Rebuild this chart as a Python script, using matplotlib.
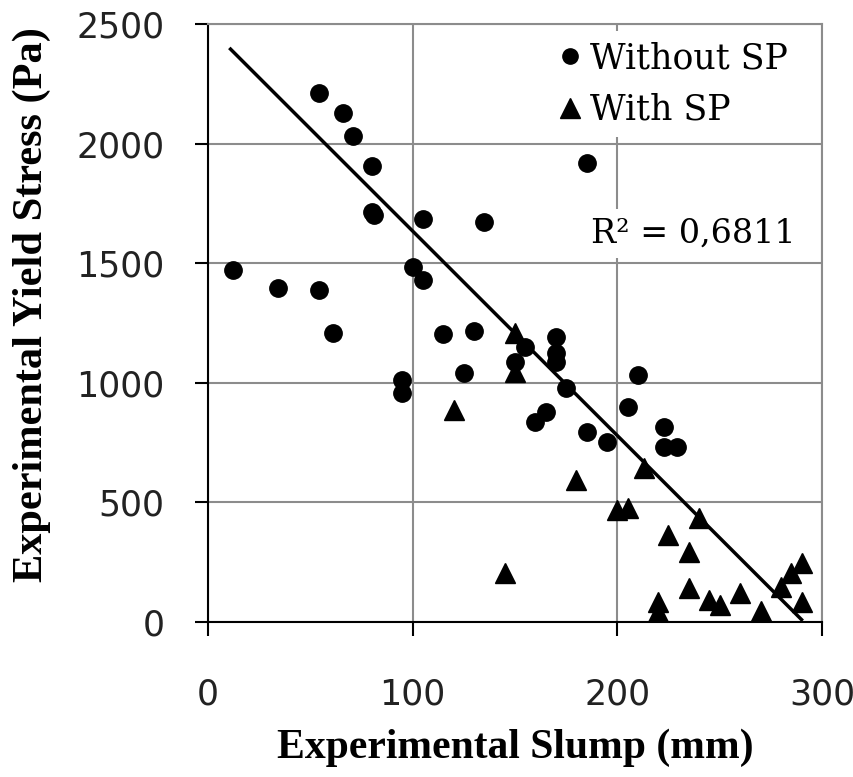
import matplotlib.pyplot as plt

# slump (mm) and yield stress (Pa)
slump_nosp = [12, 34, 54, 54, 61, 66, 71, 80, 80, 81, 95, 95, 100, 105, 105,
              115, 125, 130, 135, 150, 155, 165, 160, 170, 170, 170, 175, 185,
              185, 195, 205, 210, 223, 223, 229]
stress_nosp = [1470, 1395, 2210, 1387, 1210, 2127, 2031, 1906, 1712, 1700, 1010, 958,
               1483, 1684, 1429, 1205, 1040, 1216, 1671, 1087, 1149, 878, 836,
               1191, 1124, 1087, 978, 1918, 794, 752, 899, 1032, 815, 731, 731]

slump_sp = [120, 145, 150, 150, 180, 200, 205, 213, 220, 220, 225, 235, 235,
            240, 245, 250, 260, 270, 280, 285, 290, 290]
stress_sp = [886, 205, 1210, 1045, 593, 468, 476, 643, 84, 42, 364, 293, 142,
             435, 92, 71, 121, 45, 146, 204, 246, 84]

# trendline ends as drawn in the reference
trend_x = [11, 290]
trend_y = [2395, 10]
r2_text = 'R² = 0,6811'

plt.rcParams['font.family'] = ['Liberation Serif', 'DejaVu Serif']

fig = plt.figure(figsize=(8.54, 7.77), dpi=100)
ax = fig.add_axes([0.2436, 0.1995, 0.7189, 0.7696])

ax.plot(slump_nosp, stress_nosp, 'o', color='black', markersize=12.5, label='Without SP', zorder=4)
ax.plot(slump_sp, stress_sp, '^', color='black', markersize=14, label='With SP', zorder=4)
ax.plot(trend_x, trend_y, color='black', linewidth=2.5, zorder=3)

ax.set_xlim(0, 300)
ax.set_ylim(0, 2500)
ax.set_xticks([0, 100, 200, 300])
ax.set_yticks([0, 500, 1000, 1500, 2000, 2500])
ax.grid(True, color='#8c8c8c', linewidth=1.5)
ax.set_axisbelow(True)

for side in ['top', 'right']:
    ax.spines[side].set_color('#8c8c8c')
    ax.spines[side].set_linewidth(1.5)
for side in ['left', 'bottom']:
    ax.spines[side].set_linewidth(1.5)

ax.tick_params(axis='y', direction='out', length=9.5, width=1.5, pad=22)
ax.tick_params(axis='x', direction='out', length=10, width=1.5, pad=30)
for lab in ax.get_xticklabels() + ax.get_yticklabels():
    lab.set_family('DejaVu Sans')
    lab.set_fontsize(25)
    lab.set_color('#222222')

ax.set_xlabel('Experimental Slump (mm)', fontsize=30, fontweight='bold', labelpad=12)
ax.set_ylabel('Experimental Yield Stress (Pa)', fontsize=30.5, fontweight='bold')
ax.yaxis.set_label_coords(-0.255, 0.53)

leg = ax.legend(loc='upper right', bbox_to_anchor=(0.962, 0.988), frameon=True, fancybox=False,
                prop={'family': 'DejaVu Serif', 'size': 25},
                edgecolor='none', framealpha=1, handlelength=0.8, handletextpad=0.2,
                borderaxespad=0, borderpad=0.3, labelspacing=0.5)
leg.legend_handles[0].set_markersize(11)
leg.legend_handles[1].set_markersize(15)

ax.text(287, 1625, r2_text, fontsize=24, family='DejaVu Serif', ha='right', va='center',
        bbox=dict(facecolor='white', edgecolor='none', pad=6), zorder=5)

fig.savefig('out.png', dpi=100)
